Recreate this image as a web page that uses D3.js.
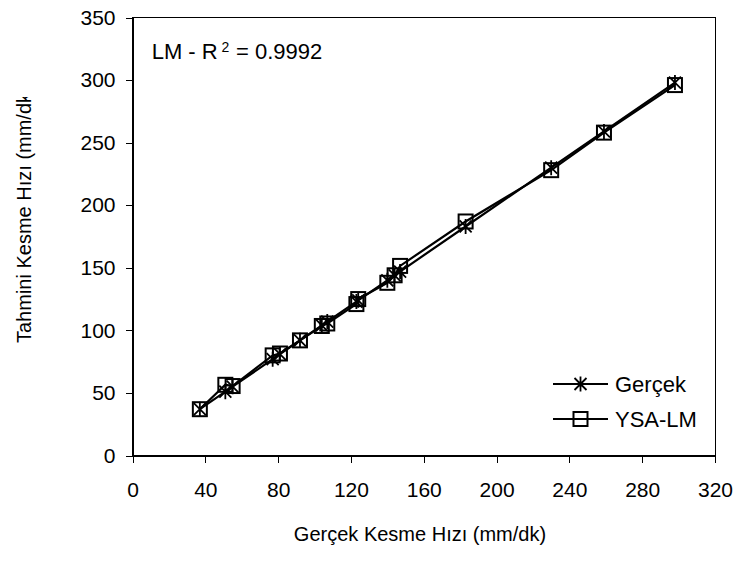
<!DOCTYPE html>
<html>
<head>
<meta charset="utf-8">
<script src="https://cdn.jsdelivr.net/npm/d3@7"></script>
<style>
  html, body { margin: 0; padding: 0; background: #fff; }
  svg { display: block; }
  text { font-family: "Liberation Sans", Arial, sans-serif; fill: #000; }
</style>
</head>
<body>
<svg id="chart" width="736" height="567"></svg>
<script>
// ---- data ----
const gercek = [37, 51, 55, 77, 81, 92, 104, 107, 123, 124, 140, 144, 147, 183, 230, 259, 298];
const ysaLM  = [37, 56.5, 55.5, 80, 81.5, 92, 103.5, 105.5, 121, 125, 138, 144, 151.5, 187, 228, 258, 296];
const xTicks = [0, 40, 80, 120, 160, 200, 240, 280, 320];
const yTicks = [0, 50, 100, 150, 200, 250, 300, 350];
const seriesNames = ["Gerçek", "YSA-LM"];
const xTitle = "Gerçek Kesme Hızı (mm/dk)";
const yTitle = "Tahmini Kesme Hızı (mm/dk)";
const annotation = { prefix: "LM - R", sup: "2", suffix: "= 0.9992" };

// ---- layout ----
const pL = 132.5, pR = 715, pT = 17.5, pB = 455.5;
const svg = d3.select("#chart");
const x = d3.scaleLinear().domain([0, 320]).range([pL, pR]);
const y = d3.scaleLinear().domain([0, 350]).range([pB, pT]);

// frame
svg.append("rect").attr("x", pL).attr("y", pT)
  .attr("width", pR - pL).attr("height", pB - pT)
  .attr("fill", "none").attr("stroke", "#000").attr("stroke-width", 1)
  .attr("shape-rendering", "crispEdges");

// axes
const xAxis = svg.append("g").attr("transform", `translate(0,${pB})`)
  .call(d3.axisBottom(x).tickValues(xTicks).tickSize(7).tickPadding(20).tickFormat(d3.format("d")));
const yAxis = svg.append("g").attr("transform", `translate(${pL},0)`)
  .call(d3.axisLeft(y).tickValues(yTicks).tickSize(7).tickPadding(10).tickFormat(d3.format("d")));
[xAxis, yAxis].forEach(g => {
  g.selectAll("path, line").attr("stroke", "#000").attr("shape-rendering", "crispEdges");
  g.selectAll("text").style("font-size", "21px")
    .style("font-family", '"Liberation Sans", Arial, sans-serif').attr("fill", "#000");
});

// titles
svg.append("text").attr("x", 420).attr("y", 541).attr("text-anchor", "middle")
  .style("font-size", "20px").text(xTitle);
svg.append("clipPath").attr("id", "ytclip").append("rect")
  .attr("x", 0).attr("y", 97).attr("width", 60).attr("height", 400);
svg.append("g").attr("clip-path", "url(#ytclip)")
  .append("text").attr("transform", "translate(31,343) rotate(-90)")
  .attr("text-anchor", "start").style("font-size", "20px").text(yTitle);

// annotation
const ann = svg.append("text").attr("x", 151.7).attr("y", 59.3).style("font-size", "22px");
ann.append("tspan").text(annotation.prefix);
ann.append("tspan").attr("x", 221.5).attr("y", 52).style("font-size", "14px").text(annotation.sup);
ann.append("tspan").attr("x", 236).attr("y", 59.3).text(annotation.suffix);

// series
const line = d3.line();
const ptsG = gercek.map(v => [x(v), y(v)]);
const ptsY = gercek.map((v, i) => [x(v), y(ysaLM[i])]);

function starPath(cx, cy, r) {
  return `M${cx - r},${cy - r}L${cx + r},${cy + r}M${cx - r},${cy + r}L${cx + r},${cy - r}M${cx},${cy - r * 1.25}L${cx},${cy + r * 1.25}`;
}
function drawStar(g, cx, cy) {
  g.append("path").attr("d", starPath(cx, cy, 6)).attr("stroke", "#000")
    .attr("stroke-width", 1.8).attr("fill", "none");
}
function drawSquare(g, cx, cy) {
  g.append("rect").attr("x", cx - 7).attr("y", cy - 7).attr("width", 14).attr("height", 14)
    .attr("fill", "none").attr("stroke", "#000").attr("stroke-width", 2);
}

const gG = svg.append("g");
gG.append("path").attr("d", line(ptsG)).attr("fill", "none").attr("stroke", "#000").attr("stroke-width", 2.2);
ptsG.forEach(p => drawStar(gG, p[0], p[1]));

const gY = svg.append("g");
gY.append("path").attr("d", line(ptsY)).attr("fill", "none").attr("stroke", "#000").attr("stroke-width", 2.2);
ptsY.forEach(p => drawSquare(gY, p[0], p[1]));

// legend
const legRows = [{ name: seriesNames[0], yc: 384, m: drawStar }, { name: seriesNames[1], yc: 419, m: drawSquare }];
legRows.forEach(r => {
  const g = svg.append("g");
  g.append("line").attr("x1", 553).attr("x2", 608).attr("y1", r.yc).attr("y2", r.yc)
    .attr("stroke", "#000").attr("stroke-width", 2);
  r.m(g, 580.5, r.yc);
  g.append("text").attr("x", 615).attr("y", r.yc + 8).style("font-size", "22px").text(r.name);
});
</script>
</body>
</html>
